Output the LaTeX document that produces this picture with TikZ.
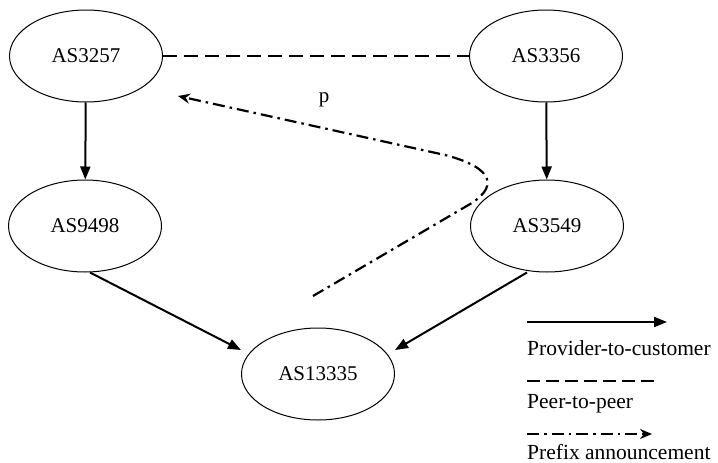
\documentclass[tikz,border=0pt]{standalone}
\usepackage{fontspec}
\setmainfont{Liberation Serif}
\usetikzlibrary{shapes.geometric,arrows.meta}
\begin{document}
\begin{tikzpicture}[x=1pt,y=-1pt,
  asnode/.style={draw, line width=1pt, ellipse, minimum width=153pt, minimum height=92pt,
    inner sep=0pt, font=\fontsize{21}{25}\selectfont},
  p2c/.style={line width=2pt, -{Triangle[length=13pt,width=10pt]}},
  p2p/.style={line width=2pt, dash pattern=on 14pt off 7pt},
  announce/.style={line width=2.2pt, dash pattern=on 12pt off 5pt on 2.5pt off 5pt,
    -{Stealth[length=12pt,width=10pt,inset=4pt]}},
  legtext/.style={anchor=west, inner sep=0pt, font=\fontsize{21.5}{25}\selectfont}]
  \useasboundingbox (0,0) rectangle (718,463);

  % autonomous systems
  \node[asnode] (a3257) at (86,56) {AS3257};
  \node[asnode] (a3356) at (546,56) {AS3356};
  \node[asnode] (a9498) at (85,226) {AS9498};
  \node[asnode] (a3549) at (547,226) {AS3549};
  \node[asnode] (a13335) at (318,374) {AS13335};

  % relationships
  \draw[p2p] (a3257) -- (a3356);
  \draw[p2c] (a3257) -- (a9498);
  \draw[p2c] (a3356) -- (a3549);
  \draw[p2c] (a9498.south) ++(5,0) coordinate (s1) (s1) -- (a13335.west |- 0,350) ;
  \draw[p2c] (a3549.south) ++(-20,0) coordinate (s2) (s2) -- (a13335.east |- 0,350);

  % prefix announcement path
  \coordinate (pstart) at (313,296);
  \coordinate (pend) at (178,96);
  \draw[announce] (pstart) -- (465,207) .. controls (500,188) and (495,168) .. (445,155) -- (pend);
  \node[font=\fontsize{21}{25}\selectfont] (plabel) at (324,100) {p};

  % legend
  \coordinate (l1a) at (527,322); \coordinate (l1b) at (667,322);
  \draw[p2c] (l1a) -- (l1b);
  \node[legtext] (t1) at (527,348) {Provider-to-customer};
  \coordinate (l2a) at (527,381); \coordinate (l2b) at (655,381);
  \draw[p2p, dash pattern=on 13pt off 6pt] (l2a) -- (l2b);
  \node[legtext] (t2) at (527,404) {Peer-to-peer};
  \coordinate (l3a) at (527,434); \coordinate (l3b) at (652,434);
  \draw[announce] (l3a) -- (l3b);
  \node[legtext] (t3) at (527,452) {Prefix announcement};
\end{tikzpicture}
\end{document}
